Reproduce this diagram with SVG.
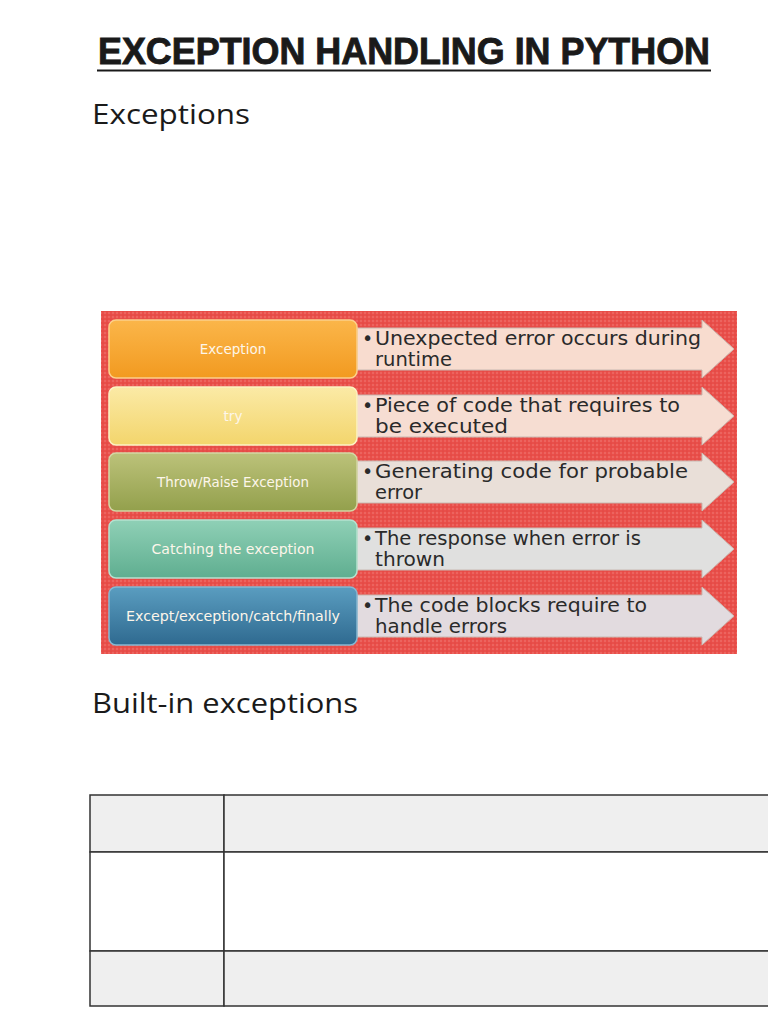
<svg xmlns="http://www.w3.org/2000/svg" width="768" height="1024" viewBox="0 0 768 1024">
<defs>
<style>
.title{font-family:"Liberation Sans",Roboto,sans-serif;font-weight:bold;font-size:37px;fill:#1a1a1a;stroke:#1a1a1a;stroke-width:0.9}
.h{font-family:"Open Sans","Noto Sans",sans-serif;font-size:28px;fill:#1a1a1a}
.lbl{font-family:"DejaVu Sans","Liberation Sans",sans-serif;font-size:13.5px;fill:#fdf6ea;text-anchor:middle}
.txt{font-family:"DejaVu Sans","Liberation Sans",sans-serif;font-size:19px;fill:#2a2a2a}
.arrow{stroke:#c9b8b0;stroke-width:1}
.box{stroke-width:1.5}
.cell{stroke:#333;stroke-width:1.5}
</style>
<pattern id="speckle" width="4" height="4" patternUnits="userSpaceOnUse">
<rect width="4" height="4" fill="#e94f4a"/>
<circle cx="1" cy="1" r="0.7" fill="#f38a84"/>
<circle cx="3" cy="3" r="0.6" fill="#d8403c"/>
</pattern>
<linearGradient id="gOrange" x1="0" y1="0" x2="0" y2="1"><stop offset="0" stop-color="#fbb64a"/><stop offset="1" stop-color="#f29a20"/></linearGradient>
<linearGradient id="gYellow" x1="0" y1="0" x2="0" y2="1"><stop offset="0" stop-color="#fbeaa6"/><stop offset="1" stop-color="#f3d56c"/></linearGradient>
<linearGradient id="gOlive" x1="0" y1="0" x2="0" y2="1"><stop offset="0" stop-color="#bcc27a"/><stop offset="1" stop-color="#93a04c"/></linearGradient>
<linearGradient id="gTeal" x1="0" y1="0" x2="0" y2="1"><stop offset="0" stop-color="#8fd0b6"/><stop offset="1" stop-color="#5fae90"/></linearGradient>
<linearGradient id="gBlue" x1="0" y1="0" x2="0" y2="1"><stop offset="0" stop-color="#5a9dc0"/><stop offset="1" stop-color="#2f6a90"/></linearGradient>
</defs>
<rect width="768" height="1024" fill="#ffffff"/>

<g id="title">
<text class="title" x="98" y="64" textLength="612" lengthAdjust="spacingAndGlyphs">EXCEPTION HANDLING IN PYTHON</text>
<line x1="97" y1="70.5" x2="711" y2="70.5" stroke="#1a1a1a" stroke-width="2"/>
</g>
<text class="h" x="92" y="124" textLength="158" lengthAdjust="spacingAndGlyphs">Exceptions</text>

<g id="panel">
<rect x="101" y="311" width="636" height="343" fill="url(#speckle)"/>
</g>

<g id="connectors">
<polygon class="arrow" fill="#f8dccf" points="357,328 702,328 702,320 734,349 702,378 702,370 357,370"/>
<polygon class="arrow" fill="#f6ddd2" points="357,395 702,395 702,387 734,416 702,445 702,437 357,437"/>
<polygon class="arrow" fill="#e9dfd8" points="357,461 702,461 702,453 734,482 702,511 702,503 357,503"/>
<polygon class="arrow" fill="#e0e0df" points="357,528 702,528 702,520 734,549 702,578 702,570 357,570"/>
<polygon class="arrow" fill="#e2dbdf" points="357,595 702,595 702,587 734,616 702,645 702,637 357,637"/>
</g>

<g id="node-exception">
<rect class="box" x="109" y="320" width="248" height="58" rx="7" fill="url(#gOrange)" stroke="#fcd08a"/>
<text class="lbl" x="233" y="354">Exception</text>
<text class="txt" x="362" y="345">•</text>
<text class="txt" x="375" y="345" textLength="326" lengthAdjust="spacingAndGlyphs">Unexpected error occurs during</text>
<text class="txt" x="375" y="366" textLength="77" lengthAdjust="spacingAndGlyphs">runtime</text>
</g>
<g id="node-try">
<rect class="box" x="109" y="387" width="248" height="58" rx="7" fill="url(#gYellow)" stroke="#fdf2c4"/>
<text class="lbl" x="233" y="421">try</text>
<text class="txt" x="362" y="412">•</text>
<text class="txt" x="375" y="412" textLength="305" lengthAdjust="spacingAndGlyphs">Piece of code that requires to</text>
<text class="txt" x="375" y="433" textLength="133" lengthAdjust="spacingAndGlyphs">be executed</text>
</g>
<g id="node-throw">
<rect class="box" x="109" y="453" width="248" height="58" rx="7" fill="url(#gOlive)" stroke="#d3d6a4"/>
<text class="lbl" x="233" y="487" textLength="152" lengthAdjust="spacingAndGlyphs">Throw/Raise Exception</text>
<text class="txt" x="362" y="478">•</text>
<text class="txt" x="375" y="478" textLength="313" lengthAdjust="spacingAndGlyphs">Generating code for probable</text>
<text class="txt" x="375" y="499" textLength="47" lengthAdjust="spacingAndGlyphs">error</text>
</g>
<g id="node-catching">
<rect class="box" x="109" y="520" width="248" height="58" rx="7" fill="url(#gTeal)" stroke="#b5e2d0"/>
<text class="lbl" x="233" y="554" textLength="163" lengthAdjust="spacingAndGlyphs">Catching the exception</text>
<text class="txt" x="362" y="545">•</text>
<text class="txt" x="375" y="545" textLength="266" lengthAdjust="spacingAndGlyphs">The response when error is</text>
<text class="txt" x="375" y="566" textLength="70" lengthAdjust="spacingAndGlyphs">thrown</text>
</g>
<g id="node-except">
<rect class="box" x="109" y="587" width="248" height="58" rx="7" fill="url(#gBlue)" stroke="#86b8d2"/>
<text class="lbl" x="233" y="621" textLength="214" lengthAdjust="spacingAndGlyphs">Except/exception/catch/finally</text>
<text class="txt" x="362" y="612">•</text>
<text class="txt" x="375" y="612" textLength="272" lengthAdjust="spacingAndGlyphs">The code blocks require to</text>
<text class="txt" x="375" y="633" textLength="132" lengthAdjust="spacingAndGlyphs">handle errors</text>
</g>

<text class="h" x="92" y="713" textLength="266" lengthAdjust="spacingAndGlyphs">Built-in exceptions</text>

<g id="table">
<rect class="cell" x="90" y="795" width="134" height="57" fill="#efefef"/>
<rect class="cell" x="224" y="795" width="560" height="57" fill="#efefef"/>
<rect class="cell" x="90" y="852" width="134" height="99" fill="#ffffff"/>
<rect class="cell" x="224" y="852" width="560" height="99" fill="#ffffff"/>
<rect class="cell" x="90" y="951" width="134" height="55" fill="#efefef"/>
<rect class="cell" x="224" y="951" width="560" height="55" fill="#efefef"/>
</g>
</svg>
